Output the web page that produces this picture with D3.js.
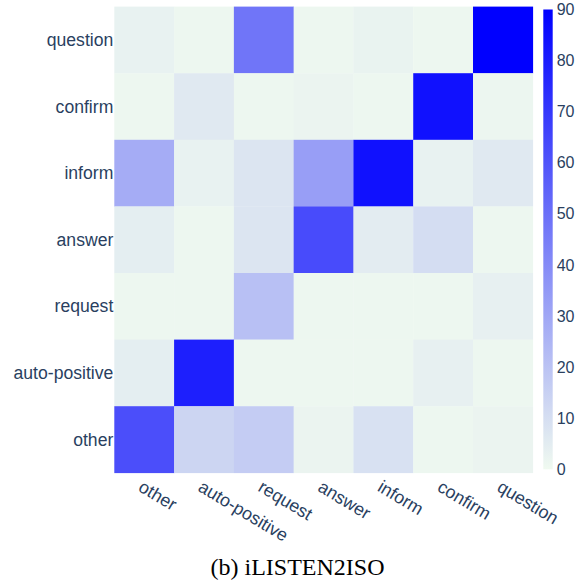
<!DOCTYPE html>
<html><head><meta charset="utf-8">
<script src="https://cdn.jsdelivr.net/npm/d3@7"></script>
<style>body{margin:0;background:#fff}svg{display:block}</style>
</head><body>
<script>
const xCategories = ["other","auto-positive","request","answer","inform","confirm","question"];
const yCategories = ["question","confirm","inform","answer","request","auto-positive","other"];
// rows in yCategories order, columns in xCategories order
const rowQuestion     = [3, 1, 48, 1, 2.5, 1, 91];
const rowConfirm      = [1, 6, 1, 2, 1, 84, 1.5];
const rowInform       = [28, 3, 7.5, 33, 84, 3, 6];
const rowAnswer       = [4.5, 1, 7.5, 63, 5, 10.5, 1];
const rowRequest      = [1, 1, 21, 1, 1, 1, 3.5];
const rowAutoPositive = [4.5, 79, 1, 1, 1, 3.5, 1];
const rowOther        = [62, 13.5, 16.5, 2, 9, 1, 2];
const colorbarTicks = [0,10,20,30,40,50,60,70,80,90];
const caption = "(b) iLISTEN2ISO";

const rows = [rowQuestion,rowConfirm,rowInform,rowAnswer,rowRequest,rowAutoPositive,rowOther];
const W=586,H=583;
const plot={l:114.3,t:6.6,r:532.8,b:472.8};
const svg=d3.select("body").append("svg").attr("width",W).attr("height",H);
const x=d3.scaleBand().domain(xCategories).range([plot.l,plot.r]);
const y=d3.scaleBand().domain(yCategories).range([plot.t,plot.b]);
const color=d3.scaleLinear().domain([0,90]).range(["rgb(240,250,240)","rgb(0,0,255)"]).clamp(true);
const cells=[];
rows.forEach((r,i)=>r.forEach((v,j)=>cells.push({yc:yCategories[i],xc:xCategories[j],v})));
svg.append("g").selectAll("rect").data(cells).join("rect")
  .attr("x",d=>x(d.xc)).attr("y",d=>y(d.yc))
  .attr("width",x.bandwidth()+0.3).attr("height",y.bandwidth()+0.3)
  .attr("fill",d=>color(d.v));
const font="'Liberation Sans', Arial, sans-serif";
const tc="#2a3f5f";
// y labels
svg.append("g").selectAll("text").data(yCategories).join("text")
  .attr("x",plot.l-1).attr("y",d=>y(d)+y.bandwidth()/2)
  .attr("dy","0.35em").attr("text-anchor","end")
  .attr("font-family",font).attr("font-size",17.6).attr("fill",tc).text(d=>d);
// x labels
svg.append("g").selectAll("text").data(xCategories).join("text")
  .attr("transform",d=>`translate(${x(d)+x.bandwidth()/2},${plot.b+6}) rotate(31)`)
  .attr("dy","0.75em").attr("text-anchor","start")
  .attr("font-family",font).attr("font-size",17.8).attr("fill",tc).text(d=>d);
// colorbar
const cb={x:543.3,w:9.4,t:9.5,b:469.3};
const cy=d3.scaleLinear().domain([0,90]).range([cb.b,cb.t]);
const defs=svg.append("defs");
const grad=defs.append("linearGradient").attr("id","cbg").attr("x1",0).attr("x2",0).attr("y1",1).attr("y2",0);
grad.append("stop").attr("offset",0).attr("stop-color",color(0));
grad.append("stop").attr("offset",1).attr("stop-color",color(90));
svg.append("rect").attr("x",cb.x).attr("y",cb.t).attr("width",cb.w).attr("height",cb.b-cb.t).attr("fill","url(#cbg)");
const axis=d3.axisRight(cy).tickValues(colorbarTicks).tickSize(0).tickPadding(4);
const ag=svg.append("g").attr("transform",`translate(${cb.x+cb.w},0)`).call(axis);
ag.select(".domain").remove();
ag.selectAll("text").attr("font-family",font).attr("font-size",16).attr("fill",tc);
// caption
svg.append("text").attr("x",297.5).attr("y",575).attr("text-anchor","middle")
  .attr("font-family","'Liberation Serif','Times New Roman',serif").attr("font-size",24).attr("fill","#000").text(caption);
</script>
</body></html>
